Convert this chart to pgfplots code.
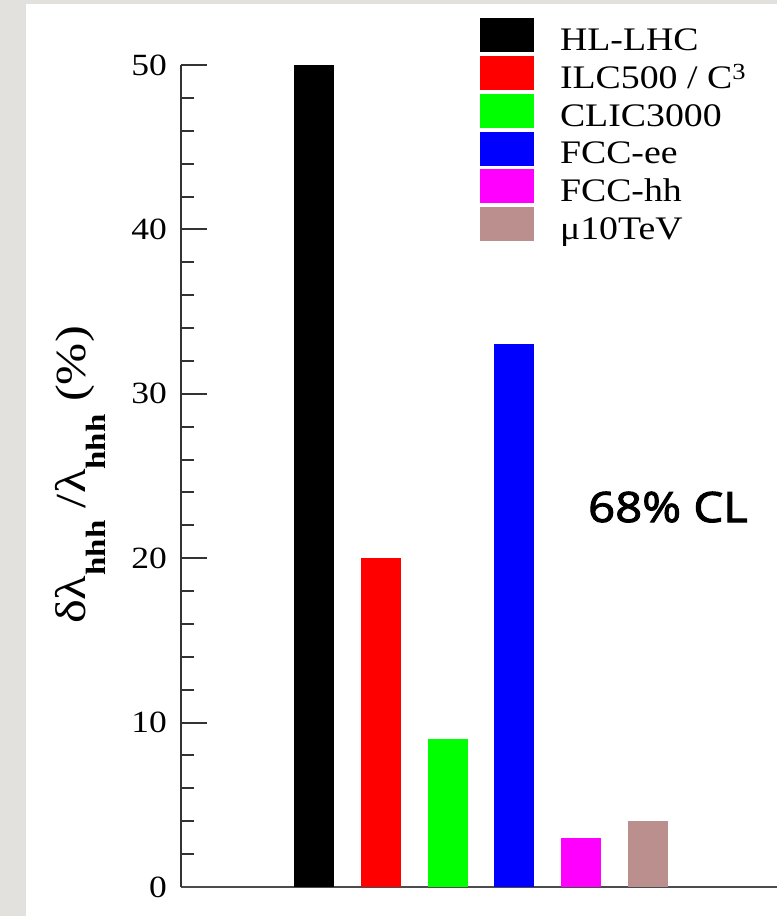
\documentclass[border=0pt]{standalone}
\usepackage{graphicx}
\usepackage{fontspec}
\setmainfont{Liberation Serif}[FakeStretch=1.15]
\newfontfamily\labfont{Liberation Serif}
\newfontfamily\labbold{Liberation Serif}[UprightFont=* Bold]
\newfontfamily\clfont{Open Sans}[FakeStretch=1.13,FakeBold=2.5]
\usepackage{pgfplots}
\pgfplotsset{compat=1.18}
\definecolor{bggray}{RGB}{226,225,221}
\definecolor{mubrown}{RGB}{188,143,143}
\definecolor{mymagenta}{RGB}{255,0,255}
\definecolor{mygreen}{RGB}{0,255,0}
\definecolor{myred}{RGB}{255,0,0}
\definecolor{myblue}{RGB}{0,0,255}
\newcommand\sub[1]{\raisebox{-20bp}{\labbold\fontsize{28}{28}\selectfont #1}}
\pgfplotsset{
  mybar/.style={ybar, bar width=40bp, bar shift=0pt, fill=#1, draw=none,
    legend image code/.code={\fill[fill=#1] (0bp,-12bp) rectangle (54bp,22bp);}},
}
\begin{document}
\begin{tikzpicture}
\fill[bggray] (-181bp,-29bp) rectangle (596bp,887bp);
\fill[white] (-155bp,-29bp) rectangle (596bp,883bp);
\begin{axis}[
  at={(0,0)}, anchor=south west,
  scale only axis, width=596bp, height=822bp,
  xmin=-0.991, xmax=7.93, ymin=0, ymax=50,
  axis x line*=bottom, axis y line*=left,
  x axis line style={-, line width=2.2bp, draw=black!70},
  y axis line style={-, line width=2.2bp, draw=black!80},
  xtick=\empty,
  ytick={0,10,20,30,40,50}, minor y tick num=4,
  tick align=inside, major tick length=26bp, minor tick length=13bp,
  every tick/.style={line width=2bp, black!80},
  /pgf/number format/assume math mode=true,
  yticklabel style={font=\fontsize{31}{31}\selectfont, inner sep=0pt, xshift=-14bp},
  ylabel={\labfont\fontsize{43}{43}\selectfont\scalebox{1.18}[1]{δλ\sub{hhh} /λ\sub{hhh} (\%)}},
  ylabel style={at={(axis description cs:-0.1594,0.5012)}, anchor=base, rotate=0, inner sep=0pt},
  legend style={at={(axis description cs:0.5017,1.0572)}, anchor=north west,
    draw=none, fill=none, inner sep=0pt, outer sep=0pt, row sep=3.6bp, column sep=26bp,
    font=\fontsize{33}{33}\selectfont, nodes={inner sep=0pt}},
  legend cell align=left,
  clip=false,
]
\addplot[mybar=black] coordinates {(1,50)};
\addlegendentry{HL-LHC}
\addplot[mybar=myred] coordinates {(2,20)};
\addlegendentry{ILC500 / C\textsuperscript{3}}
\addplot[mybar=mygreen] coordinates {(3,9)};
\addlegendentry{CLIC3000}
\addplot[mybar=myblue] coordinates {(4,33)};
\addlegendentry{FCC-ee}
\addplot[mybar=mymagenta] coordinates {(5,3)};
\addlegendentry{FCC-hh}
\addplot[mybar=mubrown] coordinates {(6,4)};
\addlegendentry{μ10TeV}
\node[anchor=base west, inner sep=0pt, font=\clfont\fontsize{42}{42}\selectfont] at (axis cs:5.10,22.2) {68\% CL};
\end{axis}
\pgfresetboundingbox
\path[use as bounding box] (-181bp,-29bp) rectangle (596bp,887bp);
\end{tikzpicture}
\end{document}
